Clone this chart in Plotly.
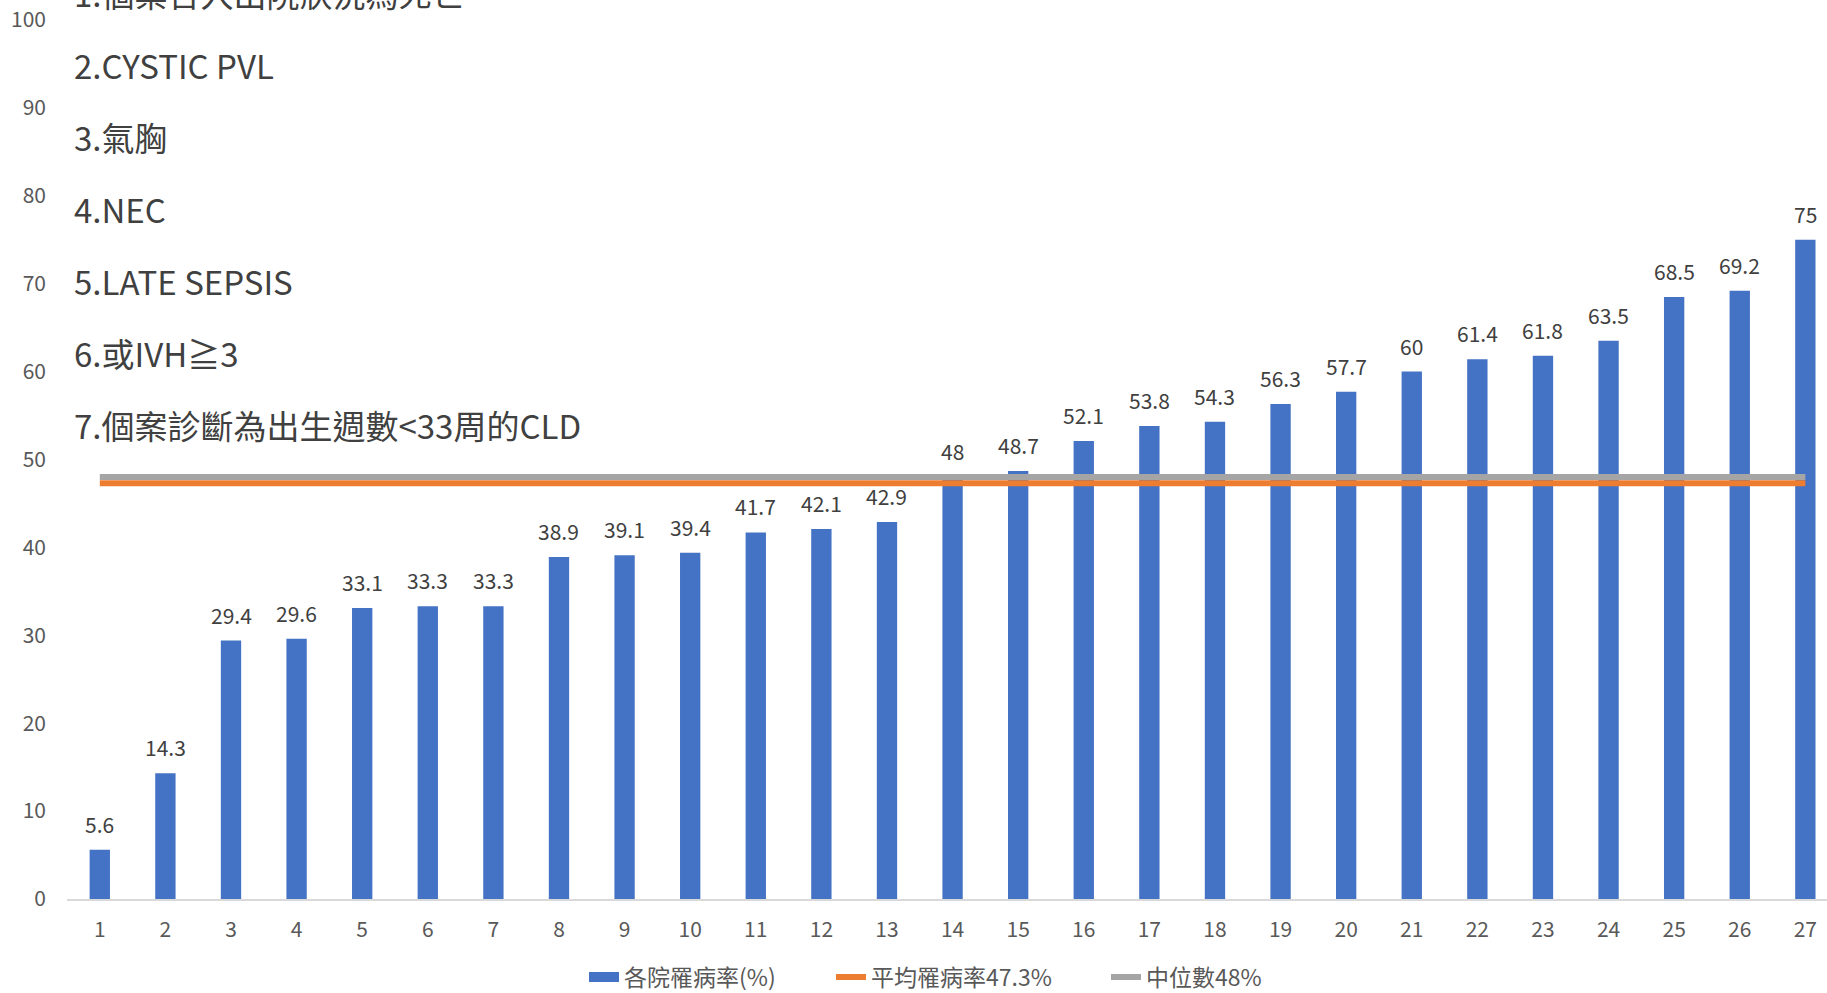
import plotly.graph_objects as go

hospitals = list(range(1, 28))
rates = [5.6, 14.3, 29.4, 29.6, 33.1, 33.3, 33.3, 38.9, 39.1, 39.4, 41.7, 42.1, 42.9,
         48, 48.7, 52.1, 53.8, 54.3, 56.3, 57.7, 60, 61.4, 61.8, 63.5, 68.5, 69.2, 75]
mean_rate = 47.3
median_rate = 48
series_names = ["各院罹病率(%)", "平均罹病率47.3%", "中位數48%"]
notes = ["1.個案合入出院狀況為死亡", "2.CYSTIC PVL", "3.氣胸", "4.NEC",
         "5.LATE SEPSIS", "6.或IVH≧3", "7.個案診斷為出生週數<33周的CLD"]

FONT = "Noto Sans CJK TC, Noto Sans, sans-serif"
W, H = 1827, 993
ML, MT, MB = 67, 20, 94
plot_h = H - MT - MB

fig = go.Figure()
fig.add_trace(go.Bar(x=hospitals, y=rates, name=series_names[0], showlegend=False,
                     marker=dict(color="#4472C4", line=dict(width=0)), width=0.31))
# legend key for the bars (wide rectangle like the original)
fig.add_trace(go.Scatter(x=[None], y=[None], mode="lines", name=series_names[0],
                         line=dict(color="#4472C4", width=15), legend="legend"))
fig.add_trace(go.Scatter(x=[hospitals[0], hospitals[-1]], y=[mean_rate, mean_rate],
                         mode="lines", name=series_names[1],
                         line=dict(color="#ED7D31", width=6), legend="legend2"))
fig.add_trace(go.Scatter(x=[hospitals[0], hospitals[-1]], y=[median_rate, median_rate],
                         mode="lines", name=series_names[2],
                         line=dict(color="#A5A5A5", width=6), legend="legend3"))

annotations = []
for h, v in zip(hospitals, rates):
    annotations.append(dict(x=h, y=v, xref="x", yref="y", text=f"{v:g}",
                            showarrow=False, yanchor="bottom", yshift=9,
                            font=dict(size=21, color="#404040", family=FONT)))

note_y_px = [-7 + 72 * i for i in range(len(notes))]
for t, ypx in zip(notes, note_y_px):
    annotations.append(dict(x=(72 - ML) / (W - ML), y=(H - MB - ypx) / plot_h,
                            xref="paper", yref="paper", text=t, showarrow=False,
                            xanchor="left", yanchor="middle",
                            font=dict(size=33, color="#404040", family=FONT)))


def leg(xpx):
    return dict(orientation="h", x=(xpx - ML) / (W - ML), xanchor="left",
                y=-(977 - (H - MB)) / plot_h, yanchor="middle",
                font=dict(size=23, color="#595959"), bgcolor="rgba(0,0,0,0)")


fig.update_layout(
    width=W, height=H,
    margin=dict(l=ML, r=0, t=MT, b=MB, autoexpand=False),
    paper_bgcolor="white", plot_bgcolor="white",
    font=dict(family=FONT, color="#595959", size=21),
    showlegend=True,
    legend=leg(584), legend2=leg(831), legend3=leg(1106),
    annotations=annotations,
    bargap=0.69,
)
fig.update_xaxes(range=[0.5, 27.33], tickmode="array", tickvals=hospitals,
                 ticktext=[str(h) for h in hospitals], showgrid=False,
                 showline=True, linecolor="#D9D9D9", linewidth=2, ticks="",
                 ticklabelstandoff=11, tickfont=dict(size=21, color="#595959"),
                 zeroline=False)
fig.update_yaxes(range=[0, 100], dtick=10, showgrid=False, showline=False,
                 zeroline=False, ticks="", ticklabelstandoff=20,
                 tickfont=dict(size=21, color="#595959"))

fig.write_html("out.html", config={"displayModeBar": False},
               post_script="document.body.style.margin='0';document.body.style.overflow='hidden';")
